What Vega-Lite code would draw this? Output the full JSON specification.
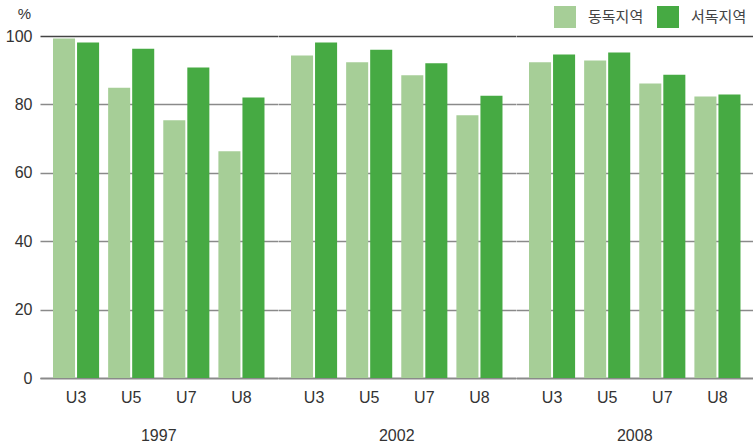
{
  "$schema": "https://vega.github.io/schema/vega-lite/v6.json",
  "padding": {"left": 5, "top": 6, "right": 0, "bottom": 0},
  "data": {"values": [
    {"year": "1997", "cat": "U3", "region": "동독지역", "value": 99.3},
    {"year": "1997", "cat": "U3", "region": "서독지역", "value": 98.1},
    {"year": "1997", "cat": "U5", "region": "동독지역", "value": 84.9},
    {"year": "1997", "cat": "U5", "region": "서독지역", "value": 96.3},
    {"year": "1997", "cat": "U7", "region": "동독지역", "value": 75.4},
    {"year": "1997", "cat": "U7", "region": "서독지역", "value": 90.8},
    {"year": "1997", "cat": "U8", "region": "동독지역", "value": 66.3},
    {"year": "1997", "cat": "U8", "region": "서독지역", "value": 82.0},
    {"year": "2002", "cat": "U3", "region": "동독지역", "value": 94.3},
    {"year": "2002", "cat": "U3", "region": "서독지역", "value": 98.1},
    {"year": "2002", "cat": "U5", "region": "동독지역", "value": 92.3},
    {"year": "2002", "cat": "U5", "region": "서독지역", "value": 96.0},
    {"year": "2002", "cat": "U7", "region": "동독지역", "value": 88.5},
    {"year": "2002", "cat": "U7", "region": "서독지역", "value": 92.0},
    {"year": "2002", "cat": "U8", "region": "동독지역", "value": 76.8},
    {"year": "2002", "cat": "U8", "region": "서독지역", "value": 82.5},
    {"year": "2008", "cat": "U3", "region": "동독지역", "value": 92.3},
    {"year": "2008", "cat": "U3", "region": "서독지역", "value": 94.6},
    {"year": "2008", "cat": "U5", "region": "동독지역", "value": 92.8},
    {"year": "2008", "cat": "U5", "region": "서독지역", "value": 95.2},
    {"year": "2008", "cat": "U7", "region": "동독지역", "value": 86.1},
    {"year": "2008", "cat": "U7", "region": "서독지역", "value": 88.7},
    {"year": "2008", "cat": "U8", "region": "동독지역", "value": 82.3},
    {"year": "2008", "cat": "U8", "region": "서독지역", "value": 82.9}
  ]},
  "facet": {
    "column": {
      "field": "year", "type": "ordinal",
      "header": {"title": null, "labelOrient": "bottom", "labelFontSize": 16, "labelFont": "Liberation Sans", "labelColor": "#333", "labelPadding": 23}
    }
  },
  "spacing": 0,
  "spec": {
    "width": 237.5,
    "height": 342,
    "mark": {"type": "bar"},
    "encoding": {
      "x": {
        "field": "cat", "type": "nominal", "sort": ["U3", "U5", "U7", "U8"],
        "scale": {"paddingInner": 0.164, "paddingOuter": 0.236},
        "axis": {"title": null, "labelAngle": 0, "ticks": false, "labelPadding": 11, "domainColor": "#666", "domainWidth": 1.5, "labelFontSize": 16, "labelFont": "Liberation Sans", "labelColor": "#333"}
      },
      "xOffset": {
        "field": "region", "type": "nominal", "sort": ["동독지역", "서독지역"],
        "scale": {"paddingInner": 0.083, "paddingOuter": 0}
      },
      "y": {
        "field": "value", "type": "quantitative",
        "scale": {"domain": [0, 100], "nice": false},
        "axis": {
          "title": "%", "titleAngle": 0, "titleX": -16, "titleY": -23, "titleAlign": "center", "titleBaseline": "middle",
          "titleFontSize": 15, "titleFont": "Liberation Sans", "titleFontWeight": "normal", "titleColor": "#333",
          "values": [0, 20, 40, 60, 80, 100], "ticks": false, "domain": false, "labelPadding": 8,
          "labelFontSize": 16, "labelFont": "Liberation Sans", "labelColor": "#333",
          "gridColor": {"condition": {"test": "datum.value === 100", "value": "#444"}, "value": "#8a8a8a"},
          "gridWidth": 1.5
        }
      },
      "color": {
        "field": "region", "type": "nominal", "sort": ["동독지역", "서독지역"],
        "scale": {"domain": ["동독지역", "서독지역"], "range": ["#a6ce97", "#46aa43"]},
        "legend": {
          "title": null, "orient": "none", "direction": "horizontal", "legendX": 514, "legendY": -30,
          "symbolType": "square", "symbolSize": 484, "symbolStrokeWidth": 0, "symbolOpacity": 1,
          "labelOffset": 12, "columnPadding": 13, "labelFontSize": 15, "labelFont": "Noto Sans CJK KR", "labelColor": "#444"
        }
      }
    }
  },
  "config": {"view": {"stroke": null}}
}
